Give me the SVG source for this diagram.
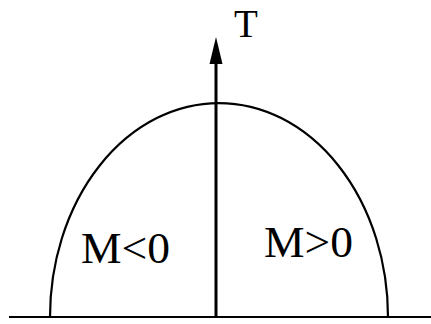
<svg xmlns="http://www.w3.org/2000/svg" width="431" height="324" viewBox="0 0 431 324">
<style>
.t{font-family:"Liberation Serif","Times New Roman",serif;fill:#000}
.ln{stroke:#000;fill:none}
</style>
<rect width="431" height="324" fill="#fff"/>
<g id="connectors">
<line class="ln" x1="9" y1="317" x2="431" y2="317" stroke-width="2.2"/>
<line class="ln" x1="216" y1="317" x2="216" y2="60" stroke-width="3"/>
<polygon points="216,37 209.5,64 222.5,64" fill="#000"/>
</g>
<g id="curve">
<path class="ln" d="M50,317 A169,214 0 0 1 388,317" stroke-width="2.2"/>
</g>
<g id="label-T"><text class="t" x="234" y="37" font-size="39">T</text></g>
<g id="label-Mneg"><text class="t" x="81" y="263" font-size="44" textLength="89" lengthAdjust="spacingAndGlyphs">M&lt;0</text></g>
<g id="label-Mpos"><text class="t" x="264" y="257" font-size="44" textLength="89" lengthAdjust="spacingAndGlyphs">M&gt;0</text></g>
</svg>
